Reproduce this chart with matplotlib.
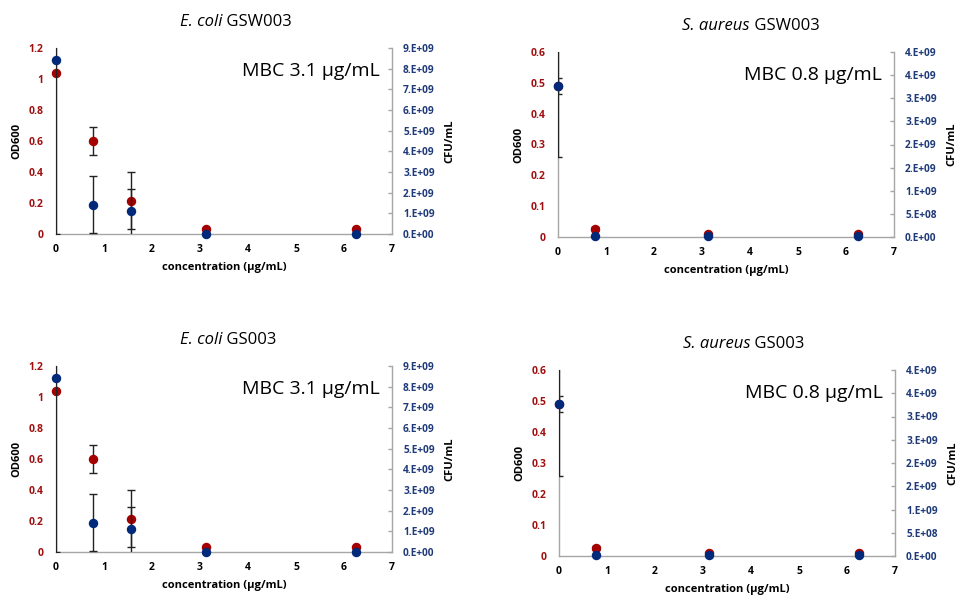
import matplotlib
matplotlib.use('Agg')
import matplotlib.pyplot as plt

plt.rcParams['font.family'] = ['Open Sans', 'DejaVu Sans']
plt.rcParams['font.weight'] = 'bold'

# E. coli (GSW003 and GS003 look identical)
ecoli_conc = [0, 0.78, 1.56, 3.125, 6.25]
ecoli_od = [1.04, 0.60, 0.21, 0.035, 0.035]
ecoli_od_err_lo = [0, 0.09, 0.18, 0, 0]
ecoli_od_err_hi = [0, 0.09, 0.08, 0, 0]
ecoli_cfu = [8.4e9, 1.42e9, 1.09e9, 0, 0]
ecoli_cfu_err = [8.4e9, 1.39e9, 1.91e9, 0, 0]

# S. aureus
saureus_conc = [0, 0.78, 3.125, 6.25]
saureus_od = [0.49, 0.025, 0.01, 0.01]
saureus_od_err = [0.025, 0.006, 0.004, 0.004]
saureus_cfu = [3.27e9, 2e7, 2e7, 2e7]
saureus_cfu_err = [1.55e9, 0, 0, 0]

conc_ticks = [0, 1, 2, 3, 4, 5, 6, 7]

ecoli_od_ticks = [0, 0.2, 0.4, 0.6, 0.8, 1.0, 1.2]
ecoli_od_labels = ['0', '0.2', '0.4', '0.6', '0.8', '1', '1.2']
ecoli_cfu_ticks = [0, 1e9, 2e9, 3e9, 4e9, 5e9, 6e9, 7e9, 8e9, 9e9]
ecoli_cfu_labels = ['0.E+00', '1.E+09', '2.E+09', '3.E+09', '4.E+09',
                    '5.E+09', '6.E+09', '7.E+09', '8.E+09', '9.E+09']

saureus_od_ticks = [0, 0.1, 0.2, 0.3, 0.4, 0.5, 0.6]
saureus_od_labels = ['0', '0.1', '0.2', '0.3', '0.4', '0.5', '0.6']
saureus_cfu_ticks = [0, 5e8, 1e9, 1.5e9, 2e9, 2.5e9, 3e9, 3.5e9, 4e9]
saureus_cfu_labels = ['0.E+00', '5.E+08', '1.E+09', '2.E+09', '2.E+09',
                      '3.E+09', '3.E+09', '4.E+09', '4.E+09']

RED = '#A50000'
BLUE = '#00297A'
RED_TXT = '#A01010'
BLUE_TXT = '#1F3A78'
GRAY = '#A6A6A6'
ERR = '#222222'

W, H = 960, 598
fig = plt.figure(figsize=(W / 100, H / 100), dpi=100)


def draw_panel(px, species, strain, mbc, conc, od, od_err, cfu, cfu_err,
               od_ticks, od_labels, cfu_ticks, cfu_labels):
    # px: left, top, right, bottom of the plot area in pixels
    left, top, right, bottom = px
    ax = fig.add_axes([left / W, 1 - bottom / H, (right - left) / W, (bottom - top) / H])
    ax2 = ax.twinx()

    ax.errorbar(conc, od, yerr=od_err, fmt='none', ecolor=ERR, elinewidth=1,
                capsize=3, capthick=1)
    ax.plot(conc, od, 'o', color=RED, ms=5.8, clip_on=False, zorder=5)
    ax2.errorbar(conc, cfu, yerr=cfu_err, fmt='none', ecolor=ERR, elinewidth=1,
                 capsize=3, capthick=1)
    ax2.plot(conc, cfu, 'o', color=BLUE, ms=5.8, clip_on=False, zorder=5)

    ax.set_xlim(0, 7)
    ax.set_ylim(od_ticks[0], od_ticks[-1])
    ax2.set_ylim(cfu_ticks[0], cfu_ticks[-1])

    ax.set_xticks(conc_ticks)
    ax.set_xticklabels([str(t) for t in conc_ticks], fontweight='bold')
    ax.set_yticks(od_ticks)
    ax.set_yticklabels(od_labels, fontweight='bold')
    ax2.set_yticks(cfu_ticks)
    ax2.set_yticklabels(cfu_labels, fontweight='bold')

    ax.tick_params(axis='x', length=0, pad=7, labelsize=7.5)
    ax.tick_params(axis='y', length=0, pad=9, labelsize=7.5, labelcolor=RED_TXT)
    ax2.tick_params(axis='y', direction='in', length=3, width=1, color=GRAY,
                    pad=8, labelsize=7.3, labelcolor=BLUE_TXT)

    for a in (ax, ax2):
        a.spines['top'].set_visible(False)
        for s in ('left', 'right', 'bottom'):
            a.spines[s].set_color(GRAY)
            a.spines[s].set_linewidth(1)
    ax2.spines['left'].set_visible(False)
    ax2.spines['bottom'].set_visible(False)
    ax.spines['right'].set_visible(False)

    ax.set_xlabel('concentration (µg/mL)', fontsize=8, fontweight='bold')
    ax.xaxis.set_label_coords(0.5, -0.15)
    ax.set_ylabel('OD600', fontsize=8, fontweight='bold')
    ax.yaxis.set_label_coords(-0.10, 0.5)
    ax2.set_ylabel('CFU/mL', fontsize=8, fontweight='bold')
    ax2.yaxis.set_label_coords(1.155, 0.5)

    ax.text(0.965, 0.875, mbc, transform=ax.transAxes, ha='right', va='center',
            fontsize=14, fontweight='normal', zorder=10)

    # title: italic species name followed by strain
    tx = (left + 124) / W
    ty = 1 - (top - 26) / H
    t = fig.text(tx, ty, species, style='italic', fontsize=12,
                 fontweight='normal', va='center')
    ax.annotate(' ' + strain, xy=(1, 0), xycoords=t, va='bottom', ha='left',
                fontsize=12, fontweight='normal', annotation_clip=False)


draw_panel((56, 48, 392, 234), 'E. coli', 'GSW003', 'MBC 3.1 µg/mL',
           ecoli_conc, ecoli_od, [ecoli_od_err_lo, ecoli_od_err_hi],
           ecoli_cfu, ecoli_cfu_err,
           ecoli_od_ticks, ecoli_od_labels, ecoli_cfu_ticks, ecoli_cfu_labels)
draw_panel((558, 52, 894, 237), 'S. aureus', 'GSW003', 'MBC 0.8 µg/mL',
           saureus_conc, saureus_od, saureus_od_err,
           saureus_cfu, saureus_cfu_err,
           saureus_od_ticks, saureus_od_labels, saureus_cfu_ticks, saureus_cfu_labels)
draw_panel((56, 366, 392, 552), 'E. coli', 'GS003', 'MBC 3.1 µg/mL',
           ecoli_conc, ecoli_od, [ecoli_od_err_lo, ecoli_od_err_hi],
           ecoli_cfu, ecoli_cfu_err,
           ecoli_od_ticks, ecoli_od_labels, ecoli_cfu_ticks, ecoli_cfu_labels)
draw_panel((559, 370, 895, 556), 'S. aureus', 'GS003', 'MBC 0.8 µg/mL',
           saureus_conc, saureus_od, saureus_od_err,
           saureus_cfu, saureus_cfu_err,
           saureus_od_ticks, saureus_od_labels, saureus_cfu_ticks, saureus_cfu_labels)

fig.savefig('out.png', dpi=100)
